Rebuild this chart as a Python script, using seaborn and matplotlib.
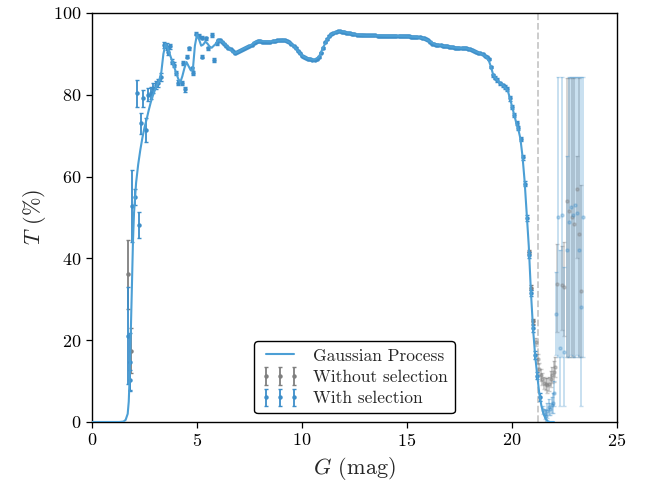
"""
Transmission curve T(G): Gaussian process + measured points
"""

import numpy as np
import pandas as pd
import matplotlib
matplotlib.use('Agg')
import matplotlib.pyplot as plt
import seaborn as sns

sns.set_style('ticks')
plt.rcParams['font.family'] = ['cmr10', 'DejaVu Serif']
plt.rcParams['mathtext.fontset'] = 'cm'
plt.rcParams['axes.formatter.use_mathtext'] = True
plt.rcParams['axes.unicode_minus'] = False
plt.rcParams['axes.edgecolor'] = 'black'

BLUE = '#3d8ec9'
GP_BLUE = '#4c9fd5'
GREY = '#7f7f7f'

# Gaussian process curve (G, T)
gp_curve = [
    (0.0, 0), (1.3, 0), (1.5, 0.1), (1.6, 0.5), (1.7, 2), (1.75, 5), (1.8, 12), (1.85, 22),
    (1.9, 33), (1.95, 44), (2.0, 51), (2.1, 58.5), (2.2, 63), (2.3, 66.5), (2.4, 69.5),
    (2.5, 72), (2.6, 74), (2.7, 76.2), (2.8, 78.2), (2.9, 79.8), (3.0, 81.2), (3.1, 82.4),
    (3.2, 83.5), (3.3, 85.5), (3.4, 90), (3.5, 92.4), (3.6, 91.5), (3.7, 90), (3.8, 88.5),
    (3.9, 87), (4.0, 85.5), (4.1, 84), (4.2, 83), (4.3, 84.5), (4.4, 86.5), (4.5, 88),
    (4.6, 87), (4.7, 86), (4.8, 86), (4.9, 92), (5.0, 94.8), (5.1, 93.5), (5.2, 92),
    (5.3, 92.3), (5.4, 93), (5.5, 92.5), (5.6, 91.8), (5.7, 91.5), (5.8, 92), (5.9, 92.5),
    (6.0, 93.3), (6.2, 93), (6.4, 92), (6.6, 91), (6.8, 90.2), (7.0, 90.6), (7.2, 91.2),
    (7.4, 91.7), (7.6, 92.2), (7.8, 93), (8.0, 93.1), (8.5, 93), (9.0, 93.3), (9.2, 93.3),
    (9.4, 92.8), (9.6, 92), (9.8, 90.8), (10.0, 89.6), (10.2, 89), (10.4, 88.7), (10.6, 88.6),
    (10.8, 89.2), (11.0, 91.5), (11.2, 93.5), (11.4, 94.8), (11.6, 95.3), (11.8, 95.5),
    (12.0, 95.4), (12.2, 95.1), (12.4, 94.9), (12.6, 94.7), (12.8, 94.6), (13.0, 94.5),
    (13.5, 94.5), (14.0, 94.4), (14.5, 94.4), (15.0, 94.3), (15.5, 94.1), (15.8, 93.8),
    (16.0, 93.3), (16.2, 92.7), (16.4, 92.2), (16.6, 92.1), (16.8, 91.9), (17.0, 91.8),
    (17.2, 91.6), (17.4, 91.5), (17.6, 91.4), (17.8, 91.4), (18.0, 91.1), (18.2, 90.7),
    (18.4, 90.3), (18.6, 89.9), (18.8, 89.2), (18.9, 88.3), (19.0, 86.8), (19.1, 85.0),
    (19.2, 84.2), (19.4, 83.0), (19.6, 82.2), (19.8, 81.0), (19.9, 79.2), (20.0, 77.2),
    (20.1, 75.2), (20.2, 73.2), (20.3, 71.6), (20.4, 69.3), (20.5, 65.0), (20.6, 59.0),
    (20.7, 51.0), (20.8, 43.0), (20.9, 32.0), (21.0, 23.0), (21.1, 16.4), (21.2, 11.5),
    (21.3, 7.0), (21.4, 4.0), (21.5, 2.0), (21.6, 0.8), (21.7, 0.2), (21.8, 0.0), (22.0, 0.0),
]

# with selection, bright end (G, T, err)
with_bright = [
    (1.73, 21.1, 11.8), (1.79, 10.3, 2.5), (1.83, 14.7, 7.1), (1.92, 52.8, 8.9),
    (2.05, 55.0, 2.0), (2.13, 80.4, 3.3), (2.24, 48.2, 3.1), (2.33, 73.0, 2.6),
    (2.41, 79.1, 2.0), (2.56, 71.4, 2.9), (2.68, 80.0, 1.6), (2.81, 80.4, 1.5),
    (2.92, 81.6, 1.2), (3.03, 82.4, 1.0), (3.14, 82.9, 1.0), (3.29, 84.4, 1.0),
    (3.44, 92.2, 0.8), (3.56, 91.8, 0.8), (3.63, 90.5, 0.8), (3.71, 91.9, 0.6),
    (3.82, 88.1, 0.6), (3.92, 87.3, 0.6), (4.00, 85.3, 0.5), (4.11, 83.0, 0.5),
    (4.27, 82.8, 0.5), (4.35, 87.7, 0.5), (4.43, 81.3, 0.5), (4.51, 89.3, 0.4),
    (4.62, 91.4, 0.4), (4.75, 86.5, 0.4), (4.83, 85.3, 0.4), (4.94, 94.9, 0.4),
    (5.10, 94.4, 0.4), (5.22, 89.3, 0.4), (5.24, 94.0, 0.4), (5.41, 93.8, 0.4),
    (5.51, 91.4, 0.4), (5.73, 94.6, 0.4), (5.83, 88.5, 0.4), (5.94, 92.6, 0.4),
]

# with selection, plateau (G, T)
with_plateau = [
    (6.0, 93.3), (6.1, 93.4), (6.2, 93.0), (6.3, 92.5), (6.4, 91.9), (6.5, 91.5), (6.6, 91.1),
    (6.7, 90.6), (6.8, 90.2), (6.9, 90.4), (7.0, 90.7), (7.1, 91.0), (7.2, 91.2), (7.3, 91.4),
    (7.4, 91.7), (7.5, 92.0), (7.6, 92.2), (7.7, 92.6), (7.8, 93.0), (7.9, 93.2), (8.0, 93.1),
    (8.1, 93.0), (8.2, 92.9), (8.3, 93.0), (8.4, 92.9), (8.5, 93.0), (8.6, 93.1), (8.7, 93.2),
    (8.8, 93.3), (8.9, 93.3), (9.0, 93.4), (9.1, 93.4), (9.2, 93.3), (9.3, 93.1), (9.4, 92.8),
    (9.5, 92.3), (9.6, 92.0), (9.7, 91.4), (9.8, 90.8), (9.9, 90.1), (10.0, 89.6), (10.1, 89.2),
    (10.2, 88.9), (10.3, 88.8), (10.4, 88.7), (10.5, 88.6), (10.6, 88.6), (10.7, 88.8),
    (10.8, 89.3), (10.9, 90.3), (11.0, 91.5), (11.1, 92.8), (11.2, 93.6), (11.3, 94.4),
    (11.4, 94.9), (11.5, 95.2), (11.6, 95.4), (11.7, 95.5), (11.8, 95.5), (11.9, 95.4),
    (12.0, 95.3), (12.1, 95.2), (12.2, 95.1), (12.3, 95.0), (12.4, 94.9), (12.5, 94.8),
    (12.6, 94.7), (12.7, 94.7), (12.8, 94.6), (12.9, 94.6), (13.0, 94.5), (13.1, 94.5),
    (13.2, 94.5), (13.3, 94.5), (13.4, 94.5), (13.5, 94.5), (13.6, 94.4), (13.7, 94.4),
    (13.8, 94.4), (13.9, 94.4), (14.0, 94.4), (14.1, 94.4), (14.2, 94.4), (14.3, 94.4),
    (14.4, 94.4), (14.5, 94.3), (14.6, 94.3), (14.7, 94.3), (14.8, 94.3), (14.9, 94.3),
    (15.0, 94.3), (15.1, 94.3), (15.2, 94.2), (15.3, 94.2), (15.4, 94.2), (15.5, 94.1),
    (15.6, 94.1), (15.7, 94.0), (15.8, 93.9), (15.9, 93.7), (16.0, 93.3), (16.1, 92.9),
    (16.2, 92.5), (16.3, 92.3), (16.4, 92.2), (16.5, 92.1), (16.6, 92.1), (16.7, 92.0),
    (16.8, 91.9), (16.9, 91.9), (17.0, 91.8), (17.1, 91.7), (17.2, 91.6), (17.3, 91.5),
    (17.4, 91.5), (17.5, 91.5), (17.6, 91.4), (17.7, 91.4), (17.8, 91.4), (17.9, 91.3),
    (18.0, 91.1), (18.1, 90.9), (18.2, 90.7), (18.3, 90.5), (18.4, 90.3), (18.5, 90.1),
    (18.6, 89.9), (18.7, 89.6), (18.8, 89.3), (18.9, 88.7), (19.0, 86.8),
]

# with selection, faint drop (G, T, err)
with_drop = [
    (19.11, 84.8, 0.4), (19.2, 84.2, 0.4), (19.3, 83.6, 0.4), (19.43, 82.8, 0.4),
    (19.55, 82.3, 0.4), (19.65, 81.9, 0.4), (19.75, 81.4, 0.4), (19.9, 79.1, 0.5),
    (20.0, 77.1, 0.5), (20.11, 75.1, 0.5), (20.22, 73.0, 0.5), (20.3, 71.8, 0.5),
    (20.41, 69.2, 0.5), (20.51, 64.7, 0.6), (20.62, 58.2, 0.6), (20.71, 49.8, 0.7),
    (20.83, 40.8, 0.7), (20.9, 31.5, 0.8), (21.0, 22.9, 0.8), (21.1, 16.4, 0.9),
    (21.21, 11.3, 0.9), (21.33, 6.2, 1.0),
]

# with selection beyond the cut (G, T, err)
with_faint = [
    (21.46, 2.9, 1.0), (21.55, 2.0, 1.2), (21.62, 1.5, 1.5), (21.68, 2.8, 1.8),
    (21.75, 3.6, 2.0), (21.82, 3.2, 1.5), (21.9, 4.2, 2.0), (21.97, 4.6, 2.5), (22.02, 7.0, 3.0),
]

# with selection, faintest (G, T, lower, upper)
with_wide = [
    (22.10, 26.5, 16.4, 36.7), (22.19, 50.0, 16.0, 84.4), (22.29, 18.0, 3.8, 42.0),
    (22.38, 50.5, 16.0, 84.4), (22.49, 17.0, 3.8, 38.0), (22.60, 42.0, 16.0, 65.0),
    (22.70, 49.0, 16.0, 84.4), (22.79, 52.5, 16.5, 84.4), (22.89, 50.5, 16.0, 84.4),
    (22.99, 53.0, 16.0, 84.4), (23.08, 51.0, 16.5, 84.4), (23.18, 42.0, 16.0, 84.4),
    (23.27, 28.0, 3.8, 84.4), (23.37, 50.0, 16.0, 84.4),
]

# without selection (G, T, err)
without_bright = [
    (1.73, 36.1, 8.4), (1.86, 17.4, 5.5), (20.83, 41.6, 0.5), (20.9, 32.8, 0.6), (21.0, 24.6, 0.7),
]
without_faint = [
    (21.12, 19.5, 1.0), (21.22, 15.5, 1.2), (21.3, 13.0, 1.5), (21.38, 11.5, 1.5),
    (21.45, 10.5, 1.5), (21.52, 9.6, 1.5), (21.6, 9.2, 1.5), (21.68, 9.0, 1.8),
    (21.76, 9.3, 1.8), (21.84, 10.5, 2.0), (21.92, 11.5, 2.0), (21.98, 12.3, 2.5), (22.05, 13.5, 2.5),
]
without_wide = [
    (22.12, 33.8, 22.0, 43.5), (22.40, 33.5, 22.5, 43.0), (22.50, 33.0, 21.0, 44.0),
    (22.62, 54.0, 16.0, 84.0), (22.73, 51.5, 16.0, 84.0), (22.84, 50.0, 16.0, 84.0),
    (22.95, 48.5, 16.0, 84.0), (23.10, 57.0, 40.0, 65.0), (23.20, 46.0, 16.0, 84.0),
    (23.30, 32.0, 16.0, 58.0),
]

G_CUT = 21.24

fig = plt.figure(figsize=(6.47, 4.92), dpi=100)
ax = fig.add_axes([0.1422, 0.1423, 0.8114, 0.8313])

ax.axvline(G_CUT, color='#c8c8c8', ls='--', lw=1.3, zorder=0)

gp = pd.DataFrame(gp_curve, columns=['G', 'T'])
sns.lineplot(data=gp, x='G', y='T', ax=ax, color=GP_BLUE, lw=1.5, sort=False,
             zorder=4, label='Gaussian Process')

ebkw = dict(fmt='o', ms=2.2, elinewidth=1.3, capsize=1.6, capthick=1.0)

# without selection
wb = np.array(without_bright)
ax.errorbar(wb[:, 0], wb[:, 1], yerr=wb[:, 2], color=GREY, zorder=2,
            label='Without selection', **ebkw)
wf = np.array(without_faint)
ax.errorbar(wf[:, 0], wf[:, 1], yerr=wf[:, 2], color=GREY, alpha=0.4, zorder=1, **ebkw)
ww = np.array(without_wide)
ax.errorbar(ww[:, 0], ww[:, 1], yerr=[ww[:, 1] - ww[:, 2], ww[:, 3] - ww[:, 1]],
            color=GREY, alpha=0.35, zorder=1, **ebkw)

# with selection
sel = np.array(with_bright + [(g, t, 0.2) for g, t in with_plateau] + with_drop)
ax.errorbar(sel[:, 0], sel[:, 1], yerr=sel[:, 2], color=BLUE, zorder=3,
            label='With selection', **ebkw)
sf = np.array(with_faint)
ax.errorbar(sf[:, 0], sf[:, 1], yerr=sf[:, 2], color=BLUE, alpha=0.35, zorder=1, **ebkw)
sw = np.array(with_wide)
ax.errorbar(sw[:, 0], sw[:, 1], yerr=[sw[:, 1] - sw[:, 2], sw[:, 3] - sw[:, 1]],
            color=BLUE, alpha=0.3, zorder=1, **ebkw)

ax.set_xlim(0, 25)
ax.set_ylim(0, 100)
ax.set_xticks([0, 5, 10, 15, 20, 25])
ax.set_yticks([0, 20, 40, 60, 80, 100])
ax.tick_params(direction='out', length=4, width=0.9, labelsize=13, colors='black')
for s in ax.spines.values():
    s.set_linewidth(1.0)
ax.set_xlabel(r'$G$ (mag)', fontsize=16)
ax.set_ylabel(r'$T$ (%)', fontsize=16)

handles, labels = ax.get_legend_handles_labels()
order = ['Gaussian Process', 'Without selection', 'With selection']
hmap = dict(zip(labels, handles))
leg = ax.legend([hmap[k] for k in order], order, loc='lower center',
                bbox_to_anchor=(0.5, 0.0), numpoints=3, fontsize=12.5,
                frameon=True, fancybox=True, framealpha=1, edgecolor='black',
                handlelength=2.2, borderaxespad=0.5, labelspacing=0.35)
leg.get_frame().set_linewidth(1.0)

fig.savefig('out.png', dpi=100)
